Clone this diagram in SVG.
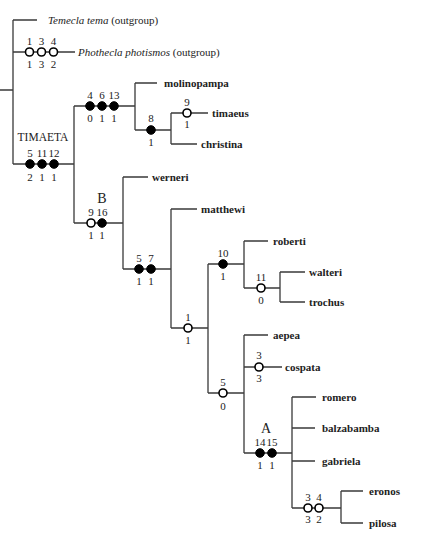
<svg xmlns="http://www.w3.org/2000/svg" width="429" height="540" viewBox="0 0 429 540">
<style>
.e{fill:none;stroke:#3a3a3a;stroke-width:1.3}
.t{font-family:"Liberation Serif",serif;font-size:11px;font-weight:bold;fill:#222}
.o{font-family:"Liberation Serif",serif;font-size:11px;fill:#222}
.i{font-style:italic}
.n{font-family:"Liberation Serif",serif;font-size:11px;fill:#222;text-anchor:middle}
.c{font-family:"Liberation Serif",serif;font-size:14px;fill:#222;text-anchor:middle}
.f{fill:#000;stroke:#000;stroke-width:1}
.h{fill:#fff;stroke:#000;stroke-width:1.6}
</style>
<rect width="429" height="540" fill="#fff"/>
<g id="connectors">
<path class="e" d="M0,90H13M13,20V164M13,20H37M13,52H75M13,164H74M74,106V223M74,106H135M135,83V130M135,83H157M135,130H171M171,113V144M171,113H208M171,144H197M74,223H123M123,177V269M123,177H148M123,269H171M171,209V328M171,209H197M171,328H208M208,264V393M208,264H244M244,241V288M244,241H268M244,288H280M280,272V302M280,272H305M280,302H305M208,393H244M244,335V453M244,335H268M244,367H282M244,453H292M292,397V508M292,397H316M292,428H315M292,461H315M292,508H341M341,491V523M341,491H363M341,523H363"/>
</g>
<g id="temecla"><text class="o" x="48" y="24"><tspan class="i">Temecla tema</tspan> (outgroup)</text></g>
<g id="phothecla"><text class="o" x="78" y="56"><tspan class="i">Phothecla photismos</tspan> (outgroup)</text>
<circle class="h" cx="29.5" cy="52" r="4"/><circle class="h" cx="41.5" cy="52" r="4"/><circle class="h" cx="53.5" cy="52" r="4"/>
<text class="n" x="29.5" y="45">1</text><text class="n" x="41.5" y="45">3</text><text class="n" x="53.5" y="45">4</text>
<text class="n" x="29.5" y="68">1</text><text class="n" x="41.5" y="68">3</text><text class="n" x="53.5" y="68">2</text></g>
<g id="timaeta"><text class="o" x="43" y="141" text-anchor="middle" style="font-size:11.5px">TIMAETA</text>
<circle class="f" cx="30" cy="164" r="4.3"/><circle class="f" cx="42" cy="164" r="4.3"/><circle class="f" cx="54" cy="164" r="4.3"/>
<text class="n" x="30" y="157">5</text><text class="n" x="42" y="157">11</text><text class="n" x="54" y="157">12</text>
<text class="n" x="30" y="181">2</text><text class="n" x="42" y="181">1</text><text class="n" x="54" y="181">1</text></g>
<g id="n4613"><circle class="f" cx="90" cy="106" r="4.3"/><circle class="f" cx="102" cy="106" r="4.3"/><circle class="f" cx="114" cy="106" r="4.3"/>
<text class="n" x="90" y="99">4</text><text class="n" x="102" y="99">6</text><text class="n" x="114" y="99">13</text>
<text class="n" x="90" y="122">0</text><text class="n" x="102" y="122">1</text><text class="n" x="114" y="122">1</text></g>
<g id="molinopampa"><text class="t" x="164" y="87">molinopampa</text></g>
<g id="n8"><circle class="f" cx="151" cy="130" r="4.3"/><text class="n" x="151" y="122">8</text><text class="n" x="151" y="146">1</text></g>
<g id="timaeus"><circle class="h" cx="187" cy="113" r="4"/><text class="n" x="187" y="106">9</text><text class="n" x="187" y="128">1</text><text class="t" x="212" y="117">timaeus</text></g>
<g id="christina"><text class="t" x="201" y="148">christina</text></g>
<g id="nB"><text class="c" x="102" y="203">B</text><circle class="h" cx="91" cy="223" r="4"/><circle class="f" cx="102" cy="223" r="4.3"/>
<text class="n" x="91" y="216">9</text><text class="n" x="102" y="216">16</text><text class="n" x="91" y="239">1</text><text class="n" x="102" y="239">1</text></g>
<g id="werneri"><text class="t" x="152" y="181">werneri</text></g>
<g id="n57"><circle class="f" cx="139" cy="269" r="4.3"/><circle class="f" cx="151" cy="269" r="4.3"/>
<text class="n" x="139" y="262">5</text><text class="n" x="151" y="262">7</text><text class="n" x="139" y="285">1</text><text class="n" x="151" y="285">1</text></g>
<g id="matthewi"><text class="t" x="201" y="213">matthewi</text></g>
<g id="n1"><circle class="h" cx="188" cy="328" r="4"/><text class="n" x="188" y="321">1</text><text class="n" x="188" y="344">1</text></g>
<g id="n10"><circle class="f" cx="223" cy="264" r="4.3"/><text class="n" x="223" y="257">10</text><text class="n" x="223" y="280">1</text></g>
<g id="roberti"><text class="t" x="273" y="245">roberti</text></g>
<g id="n11"><circle class="h" cx="261" cy="288" r="4"/><text class="n" x="261" y="281">11</text><text class="n" x="261" y="304">0</text></g>
<g id="walteri"><text class="t" x="309" y="276">walteri</text></g>
<g id="trochus"><text class="t" x="309" y="306">trochus</text></g>
<g id="n5"><circle class="h" cx="223" cy="393" r="4"/><text class="n" x="223" y="386">5</text><text class="n" x="223" y="410">0</text></g>
<g id="aepea"><text class="t" x="273" y="339">aepea</text></g>
<g id="cospata"><circle class="h" cx="259" cy="367" r="4"/><text class="n" x="259" y="359">3</text><text class="n" x="259" y="382">3</text><text class="t" x="285" y="371">cospata</text></g>
<g id="nA"><text class="c" x="266" y="433">A</text><circle class="f" cx="260" cy="453" r="4.3"/><circle class="f" cx="272" cy="453" r="4.3"/>
<text class="n" x="260" y="446">14</text><text class="n" x="272" y="446">15</text><text class="n" x="260" y="469">1</text><text class="n" x="272" y="469">1</text></g>
<g id="romero"><text class="t" x="322" y="401">romero</text></g>
<g id="balzabamba"><text class="t" x="322" y="432">balzabamba</text></g>
<g id="gabriela"><text class="t" x="322" y="465">gabriela</text></g>
<g id="n34"><circle class="h" cx="308" cy="508" r="4"/><circle class="h" cx="319" cy="508" r="4"/>
<text class="n" x="308" y="501">3</text><text class="n" x="319" y="501">4</text><text class="n" x="308" y="523">3</text><text class="n" x="319" y="523">2</text></g>
<g id="eronos"><text class="t" x="369" y="495">eronos</text></g>
<g id="pilosa"><text class="t" x="369" y="527">pilosa</text></g>
</svg>
